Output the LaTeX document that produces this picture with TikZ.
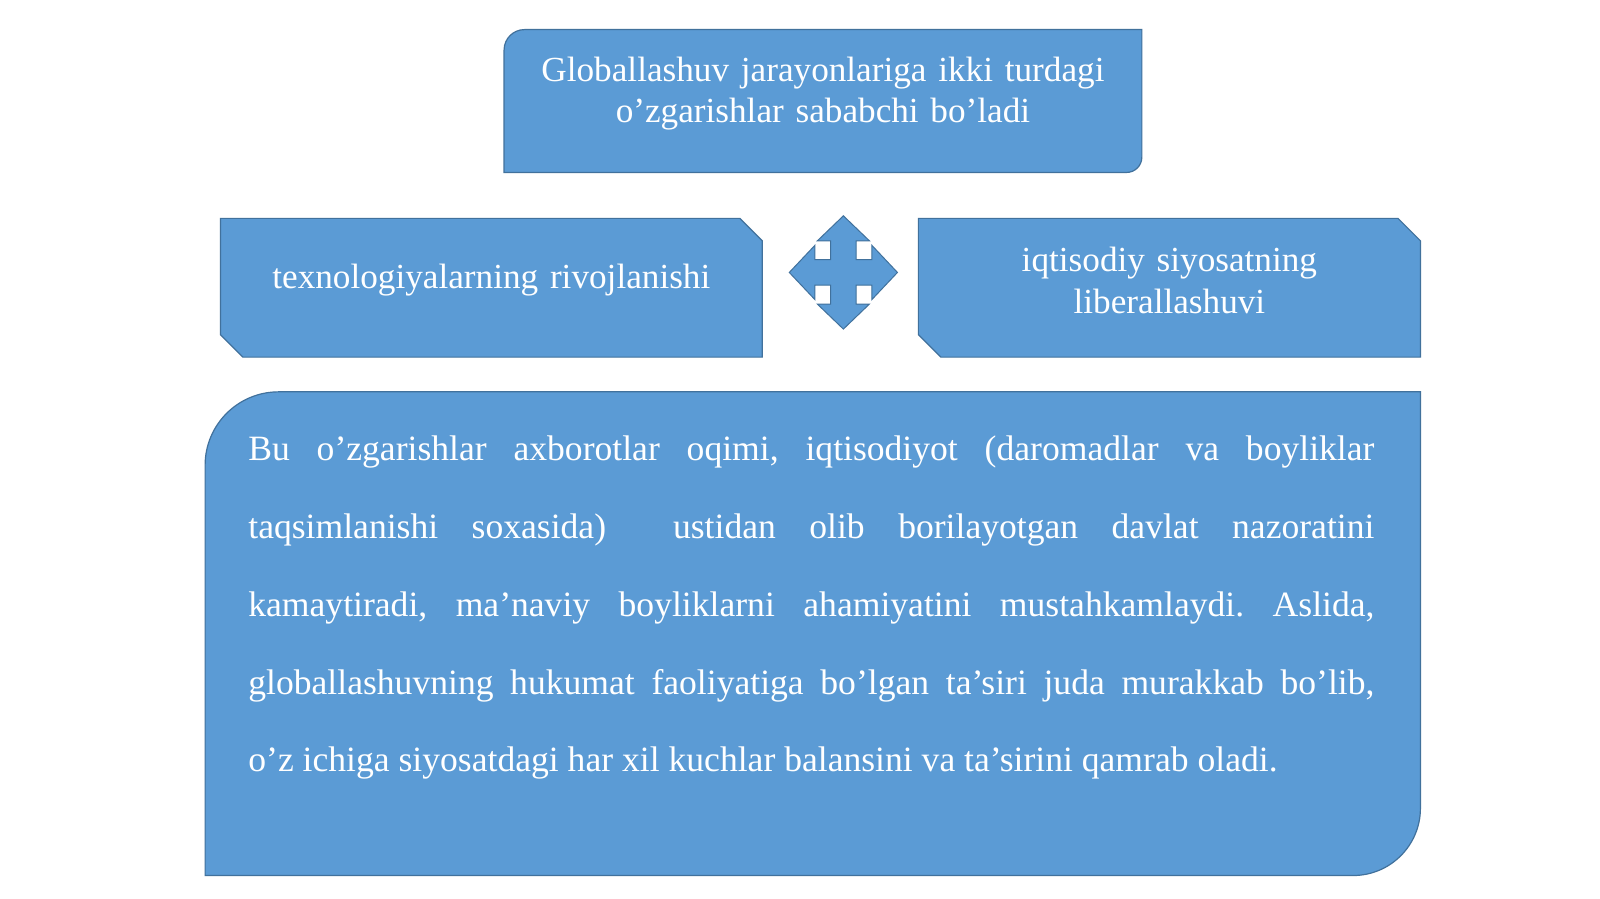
\documentclass[tikz,border=0pt]{standalone}
\usepackage{fontspec}
\setmainfont{Liberation Serif}
\definecolor{boxblue}{HTML}{5B9BD5}
\definecolor{boxedge}{HTML}{41719C}
\tikzset{
  boxshape/.style={fill=boxblue, draw=boxedge, line width=0.6pt},
  lbl/.style={text=white, inner sep=0pt, font=\fontsize{17.6}{20.9}\selectfont, align=center},
  bodytext/.style={text=white, inner sep=0pt, font=\fontsize{17.8}{38.9}\selectfont\frenchspacing, align=justify, text width=563pt}
}
\begin{document}
\begin{tikzpicture}[x=0.5102pt,y=-0.5102pt]
\useasboundingbox (0,0) rectangle (1568,881);
\fill[white] (0,0) rectangle (1568,881);

% top box: round diagonal corners
\path[boxshape] (494,49) arc[start angle=180,end angle=270,radius=20] -- (1119,29) -- (1119,154)
  arc[start angle=0,end angle=90,radius=15] -- (494,169) -- cycle;
\node[lbl, text width=340pt, anchor=base] (top) at (806.5,79.5)
  {Globallashuv jarayonlariga ikki turdagi\\o’zgarishlar sababchi bo’ladi};

% left box: snipped diagonal corners
\path[boxshape] (216,214) -- (725,214) -- (747,236) -- (747,350) -- (238,350) -- (216,328) -- cycle;
\node[lbl, text width=270pt, anchor=base] (left) at (481.5,282.5) {texnologiyalarning rivojlanishi};

% right box
\path[boxshape] (900,214) -- (1370,214) -- (1392,236) -- (1392,350) -- (922,350) -- (900,328) -- cycle;
\node[lbl, text width=250pt, anchor=base] (right) at (1146,266.5) {iqtisodiy siyosatning\\liberallashuvi};

% quad arrow
\coordinate (qc) at (826.5,267);
\path[boxshape, line width=0.5pt, shift={(qc)}]
  (0,-55.5) -- (25.5,-31) -- (12.5,-31) -- (12.5,-12.5) -- (28,-12.5) -- (28,-26.5) -- (53,0)
  -- (28,26.5) -- (28,12.5) -- (12.5,12.5) -- (12.5,31) -- (25.5,31) -- (0,55.5)
  -- (-25.5,31) -- (-12.5,31) -- (-12.5,12.5) -- (-28,12.5) -- (-28,26.5) -- (-53,0)
  -- (-28,-26.5) -- (-28,-12.5) -- (-12.5,-12.5) -- (-12.5,-31) -- (-25.5,-31) -- cycle;

% bottom box
\path[boxshape] (201,456) arc[start angle=180,end angle=270,radius=72] -- (1392,384) -- (1392,792)
  arc[start angle=0,end angle=90,radius=66] -- (201,858) -- cycle;
\node[bodytext, anchor=base west] (body) at (243,451.5)
  {Bu o’zgarishlar axborotlar oqimi, iqtisodiyot (daromadlar va boyliklar\linebreak
   taqsimlanishi soxasida)~ ustidan olib borilayotgan davlat nazoratini\linebreak
   kamaytiradi, ma’naviy boyliklarni ahamiyatini mustahkamlaydi. Aslida,\linebreak
   globallashuvning hukumat faoliyatiga bo’lgan ta’siri juda murakkab bo’lib,\linebreak
   o’z ichiga siyosatdagi har xil kuchlar balansini va ta’sirini qamrab oladi.\par};
\end{tikzpicture}
\end{document}
